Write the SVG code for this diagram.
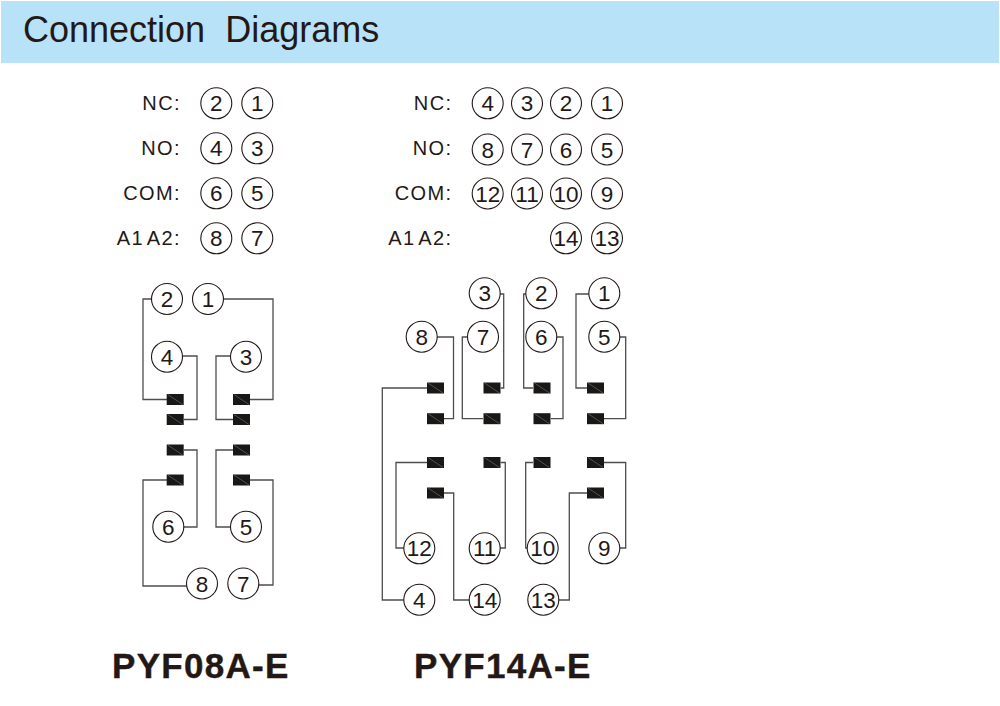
<svg xmlns="http://www.w3.org/2000/svg" width="1000" height="706" viewBox="0 0 1000 706">
<defs>
<style>
text{font-family:"Liberation Sans",Arial,sans-serif;fill:#231815}
.n{font-size:22.5px;text-anchor:middle}
.l{font-size:20px;text-anchor:end;letter-spacing:1.4px;word-spacing:-3px}
.h{font-size:35px;font-weight:bold;letter-spacing:1.3px;stroke:#231815;stroke-width:.4}
.c{fill:#fff;stroke:#231815;stroke-width:1.1}
.w{fill:none;stroke:#4d4d4d;stroke-width:1.3}
</style>
<g id="t"><rect x="0" y="-5.5" width="17" height="11" fill="#1a1816"/><path d="M1 -5L16 5" stroke="#777" stroke-width=".6"/></g>
</defs>
<rect width="1000" height="706" fill="#fff"/>
<rect id="banner" x="1" y="1" width="998" height="62" fill="#b8e2f8"/>
<text x="23" y="42" style="font-size:36px;white-space:pre" xml:space="preserve">Connection  Diagrams</text>

<g id="legend-left">
<text class="l" x="181" y="110">NC:</text><text class="l" x="181" y="155">NO:</text><text class="l" x="181" y="200">COM:</text><text class="l" x="181" y="245">A1 A2:</text>
</g>
<g id="legend-right">
<text class="l" x="452.5" y="110">NC:</text><text class="l" x="452.5" y="155">NO:</text><text class="l" x="452.5" y="200">COM:</text><text class="l" x="452.5" y="245">A1 A2:</text>
</g>

<g id="connectors" class="w">
<path d="M152 299H143V399.5H167"/><path d="M223 299H273V399.5H250"/>
<path d="M182 356H197V419.5H184"/><path d="M231 356H216V419.5H233"/>
<path d="M184 450H197V527H183"/><path d="M233 450H216V527H231"/>
<path d="M167 480H143V586H187"/><path d="M250 480H273V585H259"/>
<path d="M437 337H453.5V418.7H444"/><path d="M500 294H503.7V388H500.7"/>
<path d="M526 294H523.7V388H533"/><path d="M589 294H576V388H587"/>
<path d="M468 337H462.3V418.7H483"/><path d="M556 337H563V418.7H551"/>
<path d="M620 337H625.7V418.7H603.7"/>
<path d="M427 388H382.3V600H404"/>
<path d="M427 462.5H396V548H404"/><path d="M500.7 462.5H505.3V548H500"/>
<path d="M533 462.5H525.7V548H527"/><path d="M603.7 462.5H625.7V548H620"/>
<path d="M444 493H453.7V600H469"/><path d="M587 493H569.3V600H559"/>
</g>

<g id="terminals">
<use href="#t" x="166.7" y="399.5"/><use href="#t" x="233" y="399.5"/>
<use href="#t" x="166.7" y="419.5"/><use href="#t" x="233" y="419.5"/>
<use href="#t" x="166.7" y="450"/><use href="#t" x="233" y="450"/>
<use href="#t" x="166.7" y="480"/><use href="#t" x="233" y="480"/>
<use href="#t" x="427" y="388"/><use href="#t" x="483.5" y="388"/><use href="#t" x="533.5" y="388"/><use href="#t" x="587" y="388"/>
<use href="#t" x="427" y="418.7"/><use href="#t" x="483.5" y="418.7"/><use href="#t" x="533.5" y="418.7"/><use href="#t" x="587" y="418.7"/>
<use href="#t" x="427" y="462.5"/><use href="#t" x="483.5" y="462.5"/><use href="#t" x="533.5" y="462.5"/><use href="#t" x="587" y="462.5"/>
<use href="#t" x="427" y="493"/><use href="#t" x="587" y="493"/>
</g>

<g id="lg-2"><circle class="c" cx="216.3" cy="103.3" r="15.5"/><text class="n" x="216.3" y="111.3">2</text></g>
<g id="lg-1"><circle class="c" cx="257.3" cy="103.3" r="15.5"/><text class="n" x="257.3" y="111.3">1</text></g>
<g id="lg-4"><circle class="c" cx="216.3" cy="148.3" r="15.5"/><text class="n" x="216.3" y="156.3">4</text></g>
<g id="lg-3"><circle class="c" cx="257.3" cy="148.3" r="15.5"/><text class="n" x="257.3" y="156.3">3</text></g>
<g id="lg-6"><circle class="c" cx="216.3" cy="193.3" r="15.5"/><text class="n" x="216.3" y="201.3">6</text></g>
<g id="lg-5"><circle class="c" cx="257.3" cy="193.3" r="15.5"/><text class="n" x="257.3" y="201.3">5</text></g>
<g id="lg-8"><circle class="c" cx="216.3" cy="238.3" r="15.5"/><text class="n" x="216.3" y="246.3">8</text></g>
<g id="lg-7"><circle class="c" cx="257.3" cy="238.3" r="15.5"/><text class="n" x="257.3" y="246.3">7</text></g>

<g id="rg-4"><circle class="c" cx="487.7" cy="103.3" r="15.5"/><text class="n" x="487.7" y="111.3">4</text></g>
<g id="rg-3"><circle class="c" cx="527" cy="103.3" r="15.5"/><text class="n" x="527" y="111.3">3</text></g>
<g id="rg-2"><circle class="c" cx="566" cy="103.3" r="15.5"/><text class="n" x="566" y="111.3">2</text></g>
<g id="rg-1"><circle class="c" cx="607" cy="103.3" r="15.5"/><text class="n" x="607" y="111.3">1</text></g>
<g id="rg-8"><circle class="c" cx="487.7" cy="149.5" r="15.5"/><text class="n" x="487.7" y="157.5">8</text></g>
<g id="rg-7"><circle class="c" cx="527" cy="149.5" r="15.5"/><text class="n" x="527" y="157.5">7</text></g>
<g id="rg-6"><circle class="c" cx="566" cy="149.5" r="15.5"/><text class="n" x="566" y="157.5">6</text></g>
<g id="rg-5"><circle class="c" cx="607" cy="149.5" r="15.5"/><text class="n" x="607" y="157.5">5</text></g>
<g id="rg-12"><circle class="c" cx="487.7" cy="193.5" r="15.5"/><text class="n" x="487.7" y="201.5">12</text></g>
<g id="rg-11"><circle class="c" cx="527" cy="193.5" r="15.5"/><text class="n" x="527" y="201.5">11</text></g>
<g id="rg-10"><circle class="c" cx="566" cy="193.5" r="15.5"/><text class="n" x="566" y="201.5">10</text></g>
<g id="rg-9"><circle class="c" cx="607" cy="193.5" r="15.5"/><text class="n" x="607" y="201.5">9</text></g>
<g id="rg-14"><circle class="c" cx="566" cy="238.3" r="15.5"/><text class="n" x="566" y="246.3">14</text></g>
<g id="rg-13"><circle class="c" cx="607" cy="238.3" r="15.5"/><text class="n" x="607" y="246.3">13</text></g>

<g id="a-2"><circle class="c" cx="167" cy="299" r="15.5"/><text class="n" x="167" y="307">2</text></g>
<g id="a-1"><circle class="c" cx="208" cy="299" r="15.5"/><text class="n" x="208" y="307">1</text></g>
<g id="a-4"><circle class="c" cx="167" cy="356.7" r="15.5"/><text class="n" x="167" y="364.7">4</text></g>
<g id="a-3"><circle class="c" cx="246" cy="356.7" r="15.5"/><text class="n" x="246" y="364.7">3</text></g>
<g id="a-6"><circle class="c" cx="168.3" cy="526.7" r="15.5"/><text class="n" x="168.3" y="534.7">6</text></g>
<g id="a-5"><circle class="c" cx="246" cy="526.7" r="15.5"/><text class="n" x="246" y="534.7">5</text></g>
<g id="a-8"><circle class="c" cx="202" cy="583.5" r="15.5"/><text class="n" x="202" y="591.5">8</text></g>
<g id="a-7"><circle class="c" cx="243.3" cy="583.5" r="15.5"/><text class="n" x="243.3" y="591.5">7</text></g>

<g id="b-3"><circle class="c" cx="484.7" cy="293.3" r="15.5"/><text class="n" x="484.7" y="301.3">3</text></g>
<g id="b-2"><circle class="c" cx="541.3" cy="293.3" r="15.5"/><text class="n" x="541.3" y="301.3">2</text></g>
<g id="b-1"><circle class="c" cx="604.3" cy="293.3" r="15.5"/><text class="n" x="604.3" y="301.3">1</text></g>
<g id="b-8"><circle class="c" cx="421.7" cy="336.7" r="15.5"/><text class="n" x="421.7" y="344.7">8</text></g>
<g id="b-7"><circle class="c" cx="483" cy="336.7" r="15.5"/><text class="n" x="483" y="344.7">7</text></g>
<g id="b-6"><circle class="c" cx="541.3" cy="336.7" r="15.5"/><text class="n" x="541.3" y="344.7">6</text></g>
<g id="b-5"><circle class="c" cx="604.3" cy="336.7" r="15.5"/><text class="n" x="604.3" y="344.7">5</text></g>
<g id="b-12"><circle class="c" cx="419.3" cy="548.3" r="15.5"/><text class="n" x="419.3" y="556.3">12</text></g>
<g id="b-11"><circle class="c" cx="484.7" cy="548.3" r="15.5"/><text class="n" x="484.7" y="556.3">11</text></g>
<g id="b-10"><circle class="c" cx="542.7" cy="548.3" r="15.5"/><text class="n" x="542.7" y="556.3">10</text></g>
<g id="b-9"><circle class="c" cx="604.3" cy="548.3" r="15.5"/><text class="n" x="604.3" y="556.3">9</text></g>
<g id="b-4"><circle class="c" cx="419.3" cy="599.7" r="15.5"/><text class="n" x="419.3" y="607.7">4</text></g>
<g id="b-14"><circle class="c" cx="484.7" cy="599.7" r="15.5"/><text class="n" x="484.7" y="607.7">14</text></g>
<g id="b-13"><circle class="c" cx="543.3" cy="599.7" r="15.5"/><text class="n" x="543.3" y="607.7">13</text></g>

<text class="h" x="112" y="678">PYF08A-E</text>
<text class="h" x="414" y="678">PYF14A-E</text>
</svg>
